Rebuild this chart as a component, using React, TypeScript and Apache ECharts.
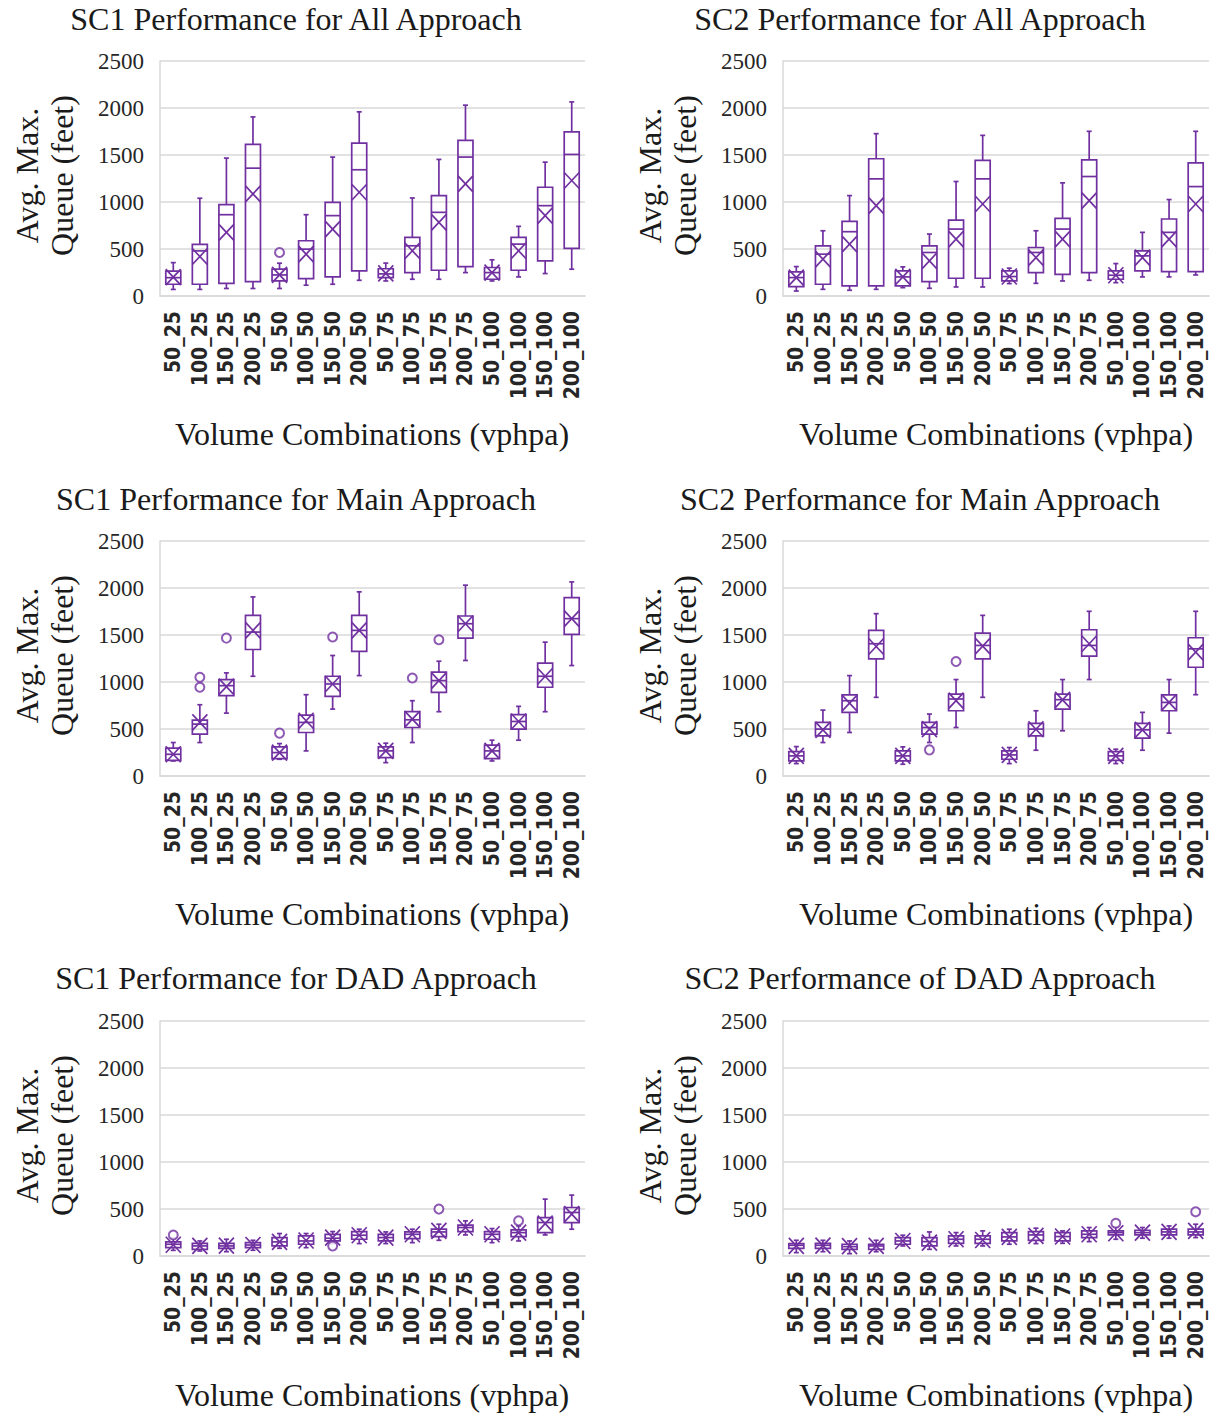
import React, { useEffect, useRef } from 'react';
import * as echarts from 'echarts';

const categories = ['50_25', '100_25', '150_25', '200_25', '50_50', '100_50', '150_50', '200_50', '50_75', '100_75', '150_75', '200_75', '50_100', '100_100', '150_100', '200_100'];
const yTicks = { min: 0, max: 2500, step: 500 };

// [min, Q1, median, Q3, max]
const sc1AllBox = [[70,125,195,265,355],[70,125,480,550,1040],[80,135,865,972,1467],[80,153,1360,1613,1905],[80,160,224,285,349],[115,185,498,588,865],[125,203,855,997,1478],[167,267,1343,1627,1959],[160,195,235,290,350],[178,249,534,623,1043],[178,274,890,1068,1453],[249,313,1478,1656,2030],[160,178,249,303,385],[203,274,552,623,741],[239,374,961,1157,1424],[285,506,1506,1745,2065]];
const sc1AllMean = [200,420,677,1086,224,445,712,1104,240,481,783,1193,249,481,855,1229];
const sc1AllOutliers = [[4, 463]];

const sc2AllBox = [[53,100,196,256,313],[71,125,445,534,694],[61,107,684,794,1068],[71,107,1246,1460,1727],[89,107,203,267,310],[82,153,463,534,659],[96,189,712,808,1218],[96,189,1246,1442,1709],[132,160,207,267,296],[135,249,463,516,694],[160,231,712,826,1204],[167,249,1271,1449,1752],[142,178,221,267,345],[203,267,427,481,677],[203,260,677,819,1026],[224,260,1164,1417,1752]];
const sc2AllMean = [196,392,552,961,203,374,605,979,207,409,605,1015,221,409,605,979];
const sc2AllOutliers: number[][] = [];

const sc1MainBox = [[160,167,231,296,356],[356,445,552,595,758],[669,855,961,1026,1097],[1061,1346,1531,1709,1905],[178,185,249,310,345],[267,463,570,648,865],[712,847,979,1061,1282],[1068,1325,1549,1709,1959],[142,196,267,310,349],[356,516,598,684,801],[684,890,1015,1104,1221],[1229,1467,1620,1702,2030],[160,185,267,328,381],[381,499,580,652,741],[684,944,1061,1200,1424],[1175,1506,1674,1898,2065]];
const sc1MainMean = [231,570,951,1549,249,588,979,1549,267,605,1015,1620,267,580,1061,1674];
const sc1MainOutliers = [[1, 1050], [1, 944], [2, 1467], [4, 456], [6, 1478], [9, 1043], [10, 1449]];

const sc2MainBox = [[132,160,214,260,313],[356,427,499,570,701],[463,677,801,862,1068],[837,1246,1407,1549,1727],[125,160,214,267,310],[356,445,516,570,659],[516,694,819,872,1026],[837,1246,1389,1521,1709],[132,178,224,267,303],[274,427,499,559,694],[481,712,812,872,1026],[1026,1275,1389,1556,1752],[132,167,214,260,285],[274,402,491,559,677],[456,694,783,862,1026],[865,1157,1353,1471,1752]];
const sc2MainMean = [214,491,776,1378,214,499,801,1382,224,497,810,1407,214,490,783,1318];
const sc2MainOutliers = [[5, 278], [6, 1218]];

const sc1DadBox = [[60,90,125,150,190],[53,71,107,135,160],[46,82,107,135,178],[61,89,117,142,167],[82,107,150,196,239],[89,125,160,214,239],[132,160,189,231,260],[132,178,221,260,285],[132,160,196,231,256],[142,185,231,256,285],[167,207,256,285,338],[224,260,303,328,374],[142,178,231,260,292],[160,207,249,278,320],[224,249,356,409,605],[285,356,463,516,648]];
const sc1DadMean = [120,107,110,117,150,165,196,221,196,231,267,303,231,249,345,445];
const sc1DadOutliers = [[0, 224], [6, 107], [10, 499], [13, 374]];

const sc2DadBox = [[36,82,114,132,167],[46,82,114,135,167],[25,71,100,125,160],[46,71,107,125,167],[107,125,160,196,221],[71,107,153,196,256],[107,135,178,214,249],[107,135,178,214,267],[125,160,203,249,285],[132,167,224,260,296],[135,160,207,249,267],[153,196,231,267,303],[178,224,249,267,310],[189,224,249,274,303],[189,224,256,285,320],[196,224,256,285,338]];
const sc2DadMean = [107,110,105,107,160,142,178,170,203,214,207,231,242,249,256,267];
const sc2DadOutliers = [[12, 349], [15, 470]];

const titles = ['SC1 Performance for All Approach', 'SC2 Performance for All Approach', 'SC1 Performance for Main Approach', 'SC2 Performance for Main Approach', 'SC1 Performance for DAD Approach', 'SC2 Performance of DAD Approach'];
const yNameLines = ['Avg. Max.', 'Queue (feet)'];
const xName = 'Volume Combinations (vphpa)';

const PURPLE = '#7030A0';
const GRID_GRAY = '#d9d9d9';
const SERIF = 'Liberation Serif';

const panelData = [
  { box: sc1AllBox, mean: sc1AllMean, out: sc1AllOutliers },
  { box: sc2AllBox, mean: sc2AllMean, out: sc2AllOutliers },
  { box: sc1MainBox, mean: sc1MainMean, out: sc1MainOutliers },
  { box: sc2MainBox, mean: sc2MainMean, out: sc2MainOutliers },
  { box: sc1DadBox, mean: sc1DadMean, out: sc1DadOutliers },
  { box: sc2DadBox, mean: sc2DadMean, out: sc2DadOutliers },
];

const colLayout = [
  { left: 160, width: 425, titleX: 296, yNameX: [27, 62], xNameX: 372 },
  { left: 783, width: 426, titleX: 920, yNameX: [650, 685], xNameX: 996 },
];
const rowLayout = [
  { top: 61, titleY: 19, xNameY: 434 },
  { top: 541, titleY: 499, xNameY: 914 },
  { top: 1021, titleY: 978, xNameY: 1395 },
];
const PLOT_H = 235;

function buildOption() {
  const grid: any[] = [];
  const xAxis: any[] = [];
  const yAxis: any[] = [];
  const series: any[] = [];
  const graphic: any[] = [];

  panelData.forEach((p, k) => {
    const col = colLayout[k % 2];
    const row = rowLayout[Math.floor(k / 2)];
    grid.push({ left: col.left, top: row.top, width: col.width, height: PLOT_H });
    xAxis.push({
      type: 'category',
      gridIndex: k,
      data: categories,
      boundaryGap: true,
      axisLine: { show: true, lineStyle: { color: GRID_GRAY, width: 1.5 } },
      axisTick: { show: false },
      axisLabel: {
        interval: 0,
        rotate: 90,
        margin: 15,
        fontFamily: 'DejaVu Sans Condensed',
        fontWeight: 'bold',
        fontSize: 21,
        color: '#262626',
      },
    });
    yAxis.push({
      type: 'value',
      gridIndex: k,
      min: yTicks.min,
      max: yTicks.max,
      interval: yTicks.step,
      axisLine: { show: true, lineStyle: { color: GRID_GRAY, width: 1.5 } },
      axisTick: { show: false },
      splitLine: { show: true, lineStyle: { color: GRID_GRAY, width: 1.5 } },
      axisLabel: {
        fontFamily: SERIF,
        fontSize: 23,
        color: '#262626',
        margin: 16,
        formatter: (v: number) => String(v),
      },
    });

    const boxData = p.box.map((b, i) => [i, b[0], b[1], b[2], b[3], b[4], p.mean[i]]);
    series.push({
      type: 'custom',
      xAxisIndex: k,
      yAxisIndex: k,
      data: boxData,
      encode: { x: 0, y: [1, 2, 3, 4, 5, 6] },
      renderItem: (params: any, api: any) => {
        const i = api.value(0);
        const c = (v: number) => api.coord([i, v]);
        const [x, yMin] = c(api.value(1));
        const yQ1 = c(api.value(2))[1];
        const yMed = c(api.value(3))[1];
        const yQ3 = c(api.value(4))[1];
        const yMax = c(api.value(5))[1];
        const yMean = c(api.value(6))[1];
        const w = 15;
        const h = w / 2;
        const cap = 2.5;
        const mh = 8;
        const style = { stroke: PURPLE, lineWidth: 1.7, fill: null };
        return {
          type: 'group',
          children: [
            { type: 'line', shape: { x1: x, y1: yMax, x2: x, y2: yQ3 }, style },
            { type: 'line', shape: { x1: x, y1: yQ1, x2: x, y2: yMin }, style },
            { type: 'line', shape: { x1: x - cap, y1: yMax, x2: x + cap, y2: yMax }, style },
            { type: 'line', shape: { x1: x - cap, y1: yMin, x2: x + cap, y2: yMin }, style },
            { type: 'rect', shape: { x: x - h, y: yQ3, width: w, height: yQ1 - yQ3 }, style: { stroke: PURPLE, lineWidth: 1.7, fill: 'rgba(255,255,255,0)' } },
            { type: 'line', shape: { x1: x - h, y1: yMed, x2: x + h, y2: yMed }, style },
            { type: 'line', shape: { x1: x - h, y1: yMean - mh, x2: x + h, y2: yMean + mh }, style },
            { type: 'line', shape: { x1: x - h, y1: yMean + mh, x2: x + h, y2: yMean - mh }, style },
          ],
        };
      },
    });
    series.push({
      type: 'scatter',
      xAxisIndex: k,
      yAxisIndex: k,
      data: p.out,
      symbol: 'emptyCircle',
      symbolSize: 9,
      itemStyle: { color: PURPLE, borderColor: PURPLE, borderWidth: 1.6 },
    });

    graphic.push({
      type: 'text',
      x: col.titleX,
      y: row.titleY,
      style: { text: titles[k], font: `32px ${SERIF}`, fill: '#1a1a1a', textAlign: 'center', textVerticalAlign: 'middle' },
    });
    graphic.push({
      type: 'text',
      x: col.xNameX,
      y: row.xNameY,
      style: { text: xName, font: `32px ${SERIF}`, fill: '#1a1a1a', textAlign: 'center', textVerticalAlign: 'middle' },
    });
    yNameLines.forEach((line, j) => {
      graphic.push({
        type: 'text',
        x: col.yNameX[j],
        y: row.top + PLOT_H / 2 - 3,
        rotation: Math.PI / 2,
        style: { text: line, font: `32px ${SERIF}`, fill: '#1a1a1a', textAlign: 'center', textVerticalAlign: 'middle' },
      });
    });
  });

  return { animation: false, backgroundColor: '#ffffff', grid, xAxis, yAxis, series, graphic };
}

export default function App() {
  const ref = useRef<HTMLDivElement>(null);
  useEffect(() => {
    document.body.style.margin = '0';
    if (!ref.current) return;
    const chart = echarts.init(ref.current, undefined, { renderer: 'svg' });
    chart.setOption(buildOption() as any);
    return () => chart.dispose();
  }, []);
  return <div ref={ref} style={{ width: 1211, height: 1414 }} />;
}
